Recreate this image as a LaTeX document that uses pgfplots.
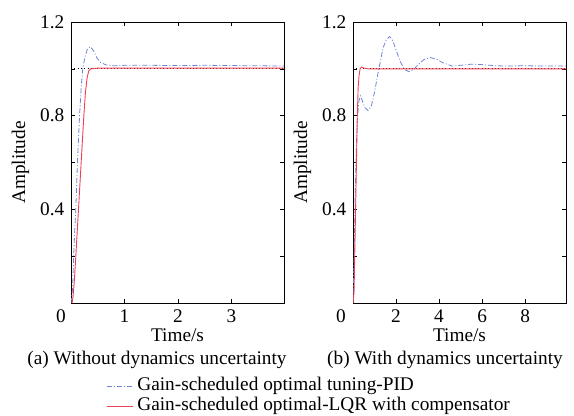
\documentclass[border=0pt]{standalone}
\usepackage{fontspec}
\setmainfont{Liberation Serif}
\usepackage{pgfplots}
\pgfplotsset{compat=1.18}
\definecolor{pidblue}{RGB}{110,132,212}
\definecolor{lqrred}{RGB}{238,64,84}
\pgfplotsset{
  myax/.style={
    scale only axis, width=213bp, height=281bp,
    ymin=0, ymax=1.2,
    ytick={0.4,0.8,1.2}, minor ytick={0.2,0.6,1.0},
    yticklabels={0.4,0.8,1.2},
    tick align=inside, tick pos=both,
    major tick length=4bp, minor tick length=4bp,
    tick style={black, line width=0.6pt},
    axis line style={black, line width=0.7pt},
    /pgf/number format/assume math mode=true,
    ylabel={Amplitude}, xlabel={Time/s},
    xlabel style={inner sep=0bp, text height=13bp, text depth=3bp, yshift=1bp},
    ylabel style={yshift=-2bp},
    anchor=south west,
    clip=true,
  }
}
\begin{document}
\fontsize{19.3bp}{22bp}\selectfont
\begin{tikzpicture}
\path[use as bounding box] (0,0) rectangle (574bp,416bp);
\begin{axis}[myax, at={(71bp,113bp)},
  xmin=0, xmax=3.98, xtick={1,2,3},
  legend style={at={(rel axis cs:0.15,-0.257)}, anchor=north west, draw=none, fill=none,
    row sep=2.5bp, nodes={inner sep=0.3bp, text height=13bp, text depth=4bp}},
  legend cell align=left,
  legend image code/.code={\draw[#1] (0bp,0bp) -- (26bp,0bp); \path (30bp,0bp);},
]
\addplot[black, line width=0.9bp, dash pattern=on 0.9bp off 2.4bp, forget plot] coordinates {(0,1) (4,1)};
\addplot[pidblue, line width=0.8bp, dash pattern=on 5bp off 2bp on 1bp off 2bp] coordinates {
(0,0) (0.03,0.06) (0.05,0.2) (0.07,0.31) (0.09,0.4) (0.12,0.6) (0.16,0.8) (0.19,0.92)
(0.22,1.0) (0.26,1.05) (0.3,1.08) (0.36,1.095) (0.42,1.078) (0.48,1.048) (0.55,1.028)
(0.65,1.017) (0.8,1.013) (1.0,1.015) (1.5,1.015) (2.0,1.014) (2.5,1.015) (3.0,1.014) (3.5,1.013) (4,1.012)};
\addlegendentry{Gain-scheduled optimal tuning-PID}
\addplot[lqrred, line width=0.9bp] coordinates {
(0,0) (0.02,0.0) (0.04,0.03) (0.064,0.1) (0.09,0.2) (0.14,0.4) (0.19,0.6) (0.24,0.8)
(0.27,0.9) (0.3,0.96) (0.33,0.99) (0.37,1.0) (0.5,1.003) (4,1.003)};
\addlegendentry{Gain-scheduled optimal-LQR with compensator}
\end{axis}
\begin{axis}[myax, at={(353bp,113bp)},
  xmin=0, xmax=9.9, xtick={2,4,6,8},
]
\addplot[black, line width=0.9bp, dash pattern=on 0.9bp off 2.4bp] coordinates {(0,1) (10,1)};
\addplot[pidblue, line width=0.8bp, dash pattern=on 5bp off 2bp on 1bp off 2bp] coordinates {
(0,0) (0.05,0.2) (0.1,0.45) (0.15,0.65) (0.2,0.78) (0.27,0.86) (0.34,0.885) (0.45,0.86)
(0.55,0.835) (0.7,0.822) (0.85,0.84) (1.0,0.9) (1.2,1.0) (1.4,1.09) (1.55,1.125) (1.7,1.138)
(1.85,1.12) (2.0,1.08) (2.2,1.03) (2.4,0.997) (2.6,0.988) (2.8,0.996) (3.0,1.015) (3.3,1.04)
(3.6,1.048) (3.9,1.04) (4.2,1.025) (4.6,1.012) (5.0,1.015) (5.5,1.02) (6.0,1.018) (6.5,1.014)
(7,1.012) (8,1.013) (9,1.012) (9.9,1.012)};
\addplot[lqrred, line width=0.9bp] coordinates {
(0,0) (0.05,0.05) (0.08,0.2) (0.12,0.4) (0.16,0.6) (0.2,0.8) (0.24,0.92) (0.28,0.97)
(0.33,1.0) (0.4,1.008) (0.5,1.003) (0.7,1.0) (9.9,1.0)};
\end{axis}
\node at (61bp,100bp) {0};
\node at (341bp,100bp) {0};
\node[inner sep=0bp, text height=13bp, text depth=4bp] at (157bp,56bp) {(a) Without dynamics uncertainty};
\node[inner sep=0bp, text height=13bp, text depth=4bp] at (445bp,56bp) {(b) With dynamics uncertainty};
\end{tikzpicture}
\end{document}
